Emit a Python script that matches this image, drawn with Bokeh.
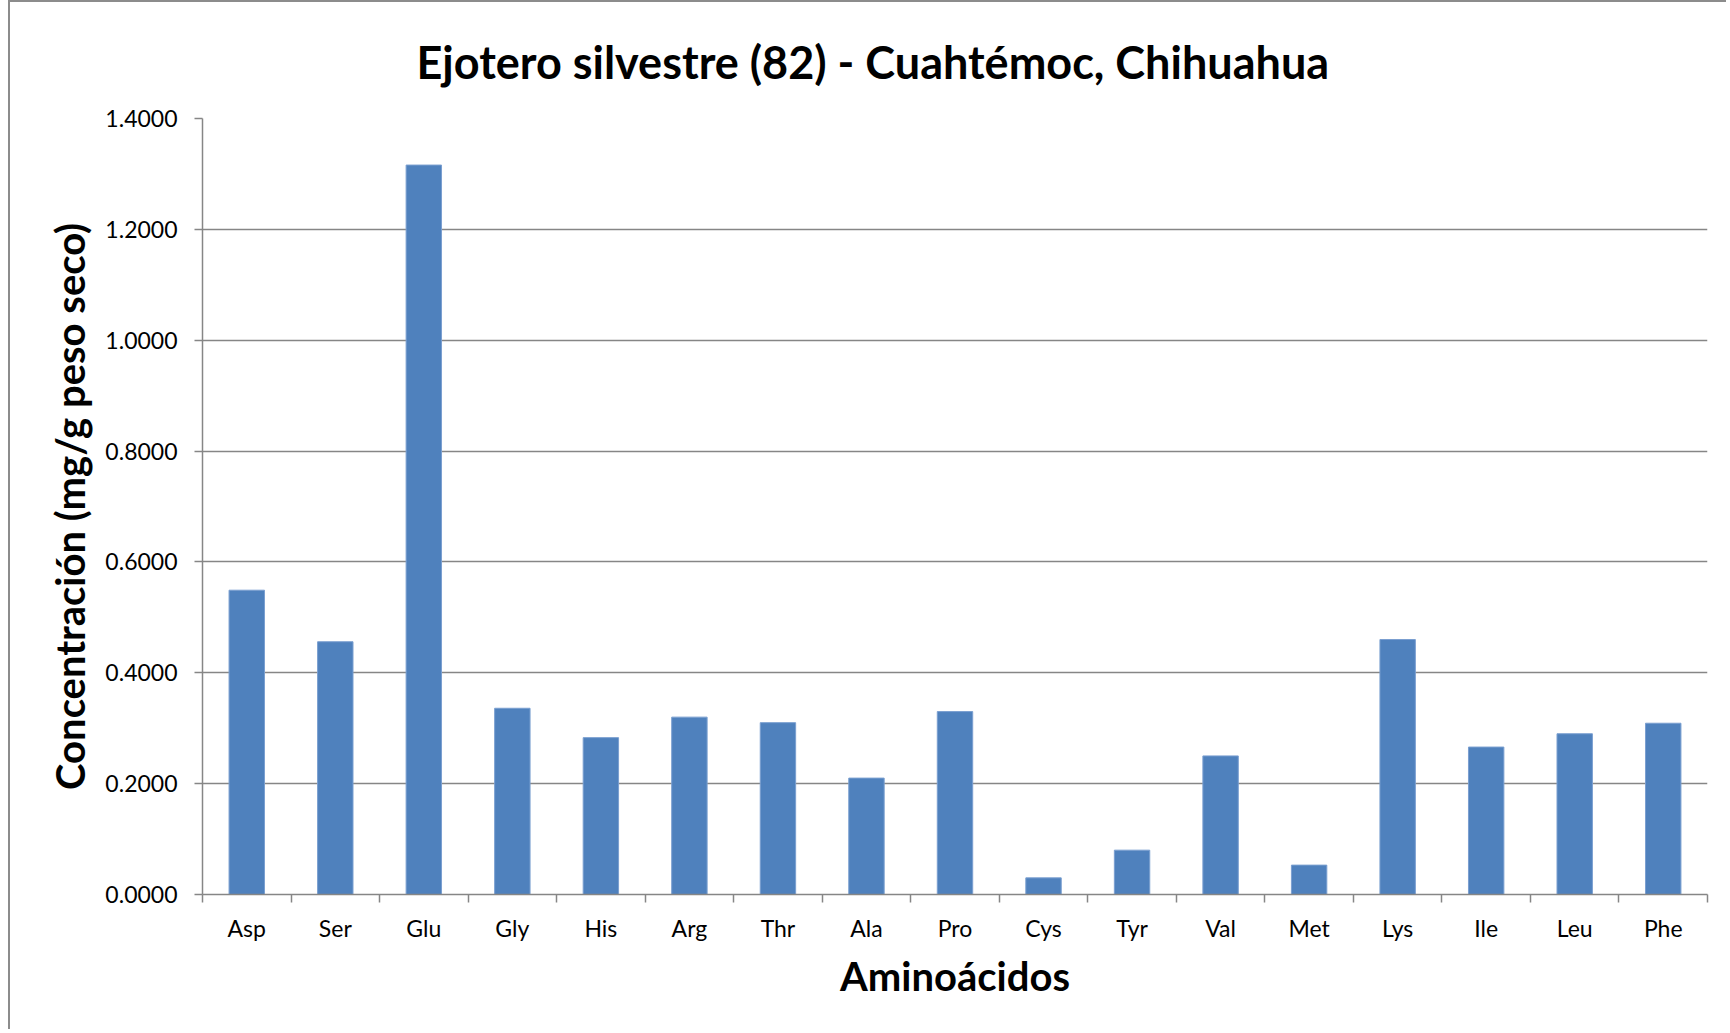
from bokeh.plotting import figure
from bokeh.models import FixedTicker, Range1d, ColumnDataSource, Title
from bokeh.embed import file_html
from bokeh.resources import INLINE

# ---- data ----
categories = ["Asp", "Ser", "Glu", "Gly", "His", "Arg", "Thr", "Ala", "Pro",
              "Cys", "Tyr", "Val", "Met", "Lys", "Ile", "Leu", "Phe"]
values = [0.549, 0.456, 1.316, 0.336, 0.283, 0.320, 0.310, 0.210, 0.330,
          0.030, 0.080, 0.250, 0.053, 0.460, 0.266, 0.290, 0.309]
y_ticks = [0.0, 0.2, 0.4, 0.6, 0.8, 1.0, 1.2, 1.4]
y_tick_labels = ["0.0000", "0.2000", "0.4000", "0.6000", "0.8000",
                 "1.0000", "1.2000", "1.4000"]
title_text = "Ejotero silvestre (82) - Cuahtémoc, Chihuahua"
x_title = "Aminoácidos"
y_title = "Concentración (mg/g peso seco)"

FONT = "Lato"
GRAY = "#868686"

n = len(categories)
xpos = [i + 0.5 for i in range(n)]
src = ColumnDataSource(dict(x=xpos, top=values, cat=categories))

p = figure(width=1718, height=1029,
           x_range=Range1d(0, n), y_range=Range1d(0, y_ticks[-1]),
           output_backend="svg", toolbar_location=None,
           min_border_left=192, min_border_right=21,
           min_border_top=116, min_border_bottom=137)
p.styles = {"margin-left": "8px",
            "border-left": "2px solid #8c8c8c", "border-top": "2px solid #8c8c8c"}
p.outline_line_color = None
p.background_fill_color = "white"
p.border_fill_color = "white"

p.vbar(x="x", top="top", width=0.4, source=src,
       fill_color="#4F81BD", line_color="#7A9FD0", line_width=1)

# grid
p.xgrid.visible = False
p.ygrid.ticker = FixedTicker(ticks=y_ticks)
p.ygrid.grid_line_color = GRAY
p.ygrid.grid_line_width = 1.5

# y axis
ya = p.yaxis[0]
ya.ticker = FixedTicker(ticks=y_ticks)
ya.major_label_overrides = {t: l for t, l in zip(y_ticks, y_tick_labels)}
ya.axis_line_color = GRAY
ya.axis_line_width = 1.5
ya.major_tick_line_color = GRAY
ya.major_tick_line_width = 1.5
ya.major_tick_in = 0
ya.major_tick_out = 8
ya.minor_tick_line_color = None
ya.major_label_standoff = 17
ya.major_label_text_font = FONT
ya.major_label_text_font_size = "23px"
ya.major_label_text_color = "black"
ya.axis_label = y_title
ya.axis_label_text_font = FONT
ya.axis_label_text_font_size = "40px"
ya.axis_label_text_font_style = "bold"
ya.axis_label_text_color = "black"
ya.axis_label_standoff = 8

# x axis
xa = p.xaxis[0]
xa.ticker = FixedTicker(ticks=xpos, minor_ticks=list(range(n + 1)))
xa.major_label_overrides = {x: c for x, c in zip(xpos, categories)}
xa.axis_line_color = GRAY
xa.axis_line_width = 1.5
xa.major_tick_line_color = None
xa.major_tick_in = 0
xa.major_tick_out = 0
xa.minor_tick_line_color = GRAY
xa.minor_tick_line_width = 1.5
xa.minor_tick_in = 0
xa.minor_tick_out = 8
xa.major_label_standoff = 11
xa.major_label_text_font = FONT
xa.major_label_text_font_size = "23px"
xa.major_label_text_color = "black"
xa.axis_label = x_title
xa.axis_label_text_font = FONT
xa.axis_label_text_font_size = "40px"
xa.axis_label_text_font_style = "bold"
xa.axis_label_text_color = "black"
xa.axis_label_standoff = 7

# chart title, centred on the whole chart area (not the plot frame)
title = Title(text=title_text, align="left", offset=214, standoff=60,
              text_font=FONT, text_font_size="45px", text_font_style="bold",
              text_color="black")
p.add_layout(title, "above")

open("out.html", "w").write(file_html(p, INLINE))
